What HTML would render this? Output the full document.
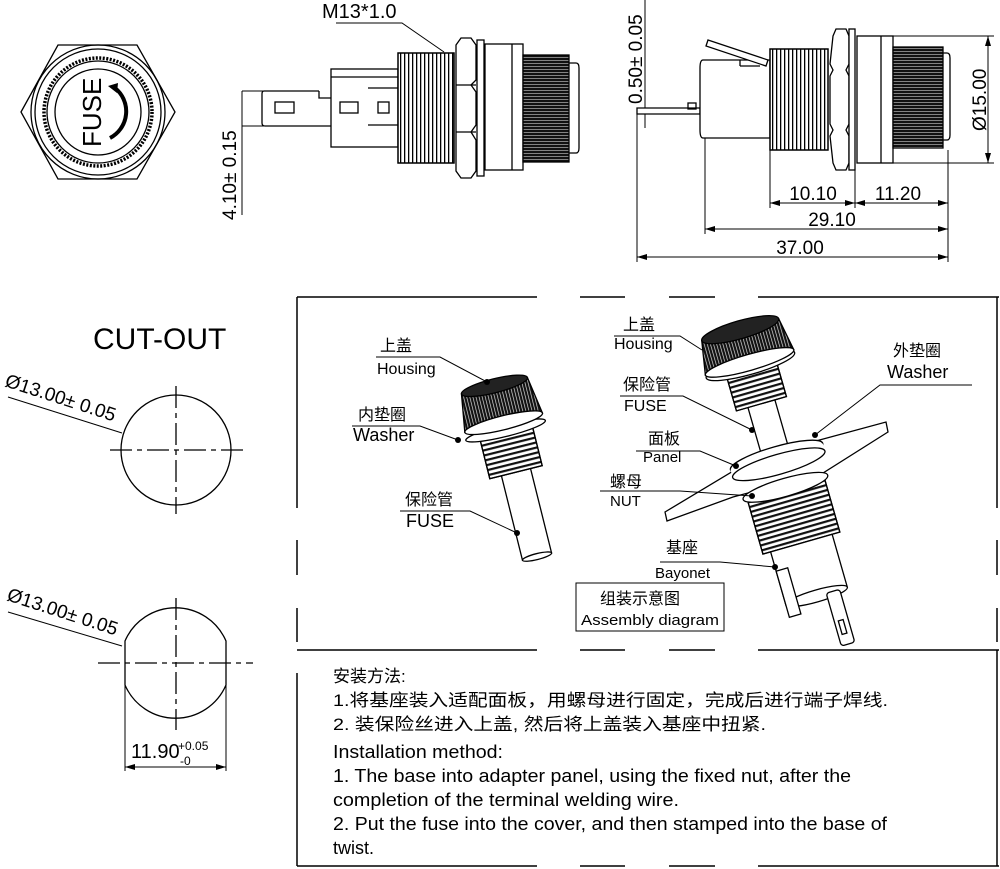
<!DOCTYPE html>
<html><head><meta charset="utf-8"><style>
html,body{margin:0;padding:0;background:#fff;}
svg{display:block;}
text{font-family:"Liberation Sans","Noto Sans CJK SC",sans-serif;fill:#000;}
</style></head><body>
<svg width="1000" height="869" viewBox="0 0 1000 869" xmlns="http://www.w3.org/2000/svg">
<defs>
<marker id="ar" markerWidth="10" markerHeight="6" refX="10" refY="3" orient="auto-start-reverse" markerUnits="userSpaceOnUse"><path d="M0,0 L10,3 L0,6 Z" fill="#000"/></marker>
<pattern id="knurl" width="3" height="10" patternUnits="userSpaceOnUse"><rect width="3" height="10" fill="#111"/><rect x="0" width="0.7" height="10" fill="#ddd"/></pattern>
<pattern id="knurlh" width="10" height="3" patternUnits="userSpaceOnUse"><rect width="10" height="3" fill="#111"/><rect y="0" width="10" height="0.6" fill="#ccc"/></pattern>
<pattern id="thr" width="4" height="10" patternUnits="userSpaceOnUse"><rect width="4" height="10" fill="#fff"/><rect x="0" width="1.3" height="10" fill="#000"/></pattern>
<pattern id="thrh" width="10" height="5" patternUnits="userSpaceOnUse"><rect width="10" height="5" fill="#fff"/><rect y="0" width="10" height="2.2" fill="#111"/></pattern>
</defs>
<g fill="none" stroke="#000" stroke-width="1.3">
<!-- ===== Top-left front view ===== -->
<polygon points="21,112 58,45 137,45 175,112 137,179 58,179"/>
<circle cx="98" cy="112" r="67"/>
<circle cx="98" cy="112" r="63"/>
<circle cx="98" cy="112" r="54" stroke-width="3.5" stroke-dasharray="2 1.5"/>
<circle cx="98" cy="112" r="51"/>
<circle cx="98" cy="112" r="43"/>
<path d="M115,88 A30,30 0 0 1 110,138" stroke-width="4"/>
<path d="M108,86 L118,83 L117,93 Z" fill="#000" stroke="none"/>
<!-- ===== Top middle side view ===== -->
<rect x="331" y="69" width="67" height="78"/>
<line x1="331" y1="77" x2="398" y2="77"/>
<line x1="368" y1="88" x2="398" y2="88"/><line x1="368" y1="125" x2="398" y2="125"/>
<path d="M319,91 L264,91 Q262,91 262,94 L262,123 Q262,126 265,126 L331,126"/>
<path d="M319,91 L319,98 L331,98"/>
<rect x="275" y="102" width="19" height="11"/>
<rect x="340" y="102" width="18" height="11"/>
<rect x="378" y="102" width="11" height="11"/>
<rect x="398" y="53" width="56" height="110" fill="url(#thr)"/>
<rect x="398" y="53" width="56" height="110"/>
<path d="M456,45 L461,38 L471,38 L476,45 L476,80 L471,85 L476,92 L476,125 L471,132 L476,140 L476,171 L471,178 L461,178 L456,171 Z" fill="#fff"/>
<line x1="456" y1="85" x2="476" y2="85"/><line x1="456" y1="132" x2="476" y2="132"/>
<rect x="477" y="40" width="7" height="136" fill="#fff"/>
<rect x="485" y="44" width="38" height="126" fill="#fff"/>
<line x1="512" y1="44" x2="512" y2="170"/>
<rect x="523" y="55" width="46" height="107" fill="url(#knurlh)"/>
<path d="M569,63 L576,63 Q579,63 579,68 L579,148 Q579,153 576,153 L569,153"/>
<polyline points="336,23 402,23 444,52" stroke-width="1"/>
<line x1="242" y1="91" x2="264" y2="91" stroke-width="1"/>
<line x1="242" y1="126" x2="264" y2="126" stroke-width="1"/>
<line x1="242" y1="91" x2="242" y2="215" stroke-width="1"/>
<!-- ===== Top right side view ===== -->
<path d="M637,108 L700,108 L700,114 L637,114 Z"/>
<rect x="688" y="103" width="8" height="6"/>
<path d="M703,60 L770,60 L770,138 L703,138 Q700,138 700,130 L700,68 Q700,60 703,60 Z" fill="#fff"/>
<line x1="740" y1="60" x2="740" y2="66"/><line x1="740" y1="66" x2="760" y2="66"/>
<polygon points="708,40 768,60 766,66 706,46" fill="#fff"/>
<rect x="770" y="49" width="58" height="101" fill="url(#thr)"/>
<rect x="770" y="49" width="58" height="101"/>
<path d="M833,36 L836,29 L846,29 L849,36 L849,64 L846,70 L849,76 L849,124 L846,130 L849,136 L849,163 L846,170 L836,170 L833,163 L830,136 L833,130 L830,124 L830,76 L833,70 L830,64 Z" fill="#fff"/>
<rect x="849" y="29" width="6" height="141" fill="#fff"/>
<rect x="857" y="36" width="36" height="127" fill="#fff"/>
<line x1="881" y1="36" x2="881" y2="163"/>
<rect x="893" y="47" width="50" height="101" fill="url(#knurlh)"/>
<path d="M943,53 L947,53 Q950,53 950,58 L950,135 Q950,140 947,140 L943,140"/>
<g stroke-width="1">
<line x1="893" y1="36" x2="994" y2="36"/><line x1="893" y1="163" x2="994" y2="163"/>
<line x1="988" y1="36" x2="988" y2="163" marker-start="url(#ar)" marker-end="url(#ar)"/>
<line x1="770" y1="150" x2="770" y2="208"/>
<line x1="855" y1="170" x2="855" y2="208"/>
<line x1="948" y1="150" x2="948" y2="262"/>
<line x1="705" y1="138" x2="705" y2="234"/>
<line x1="637" y1="114" x2="637" y2="262"/>
<line x1="770" y1="203" x2="855" y2="203" marker-start="url(#ar)" marker-end="url(#ar)"/>
<line x1="855" y1="203" x2="948" y2="203" marker-start="url(#ar)" marker-end="url(#ar)"/>
<line x1="705" y1="229" x2="948" y2="229" marker-start="url(#ar)" marker-end="url(#ar)"/>
<line x1="637" y1="257" x2="948" y2="257" marker-start="url(#ar)" marker-end="url(#ar)"/>
<line x1="645" y1="0" x2="645" y2="108"/><line x1="645" y1="114" x2="645" y2="128"/>
</g>
<!-- ===== Cut-out ===== -->
<circle cx="176" cy="450" r="55"/>
<g stroke-width="1.3" stroke-dasharray="22 5 5 5">
<line x1="110" y1="450" x2="243" y2="450"/>
<line x1="176" y1="386" x2="176" y2="514"/>
<line x1="98" y1="663" x2="253" y2="663"/>
<line x1="176" y1="598" x2="176" y2="730"/>
</g>
<line x1="8" y1="397" x2="122" y2="433" stroke-width="1"/>
<path d="M125,641 A55,55 0 0 1 226,641 L226,685 A55,55 0 0 1 125,685 Z"/>
<line x1="8" y1="612" x2="122" y2="646" stroke-width="1"/>
<g stroke-width="1">
<line x1="125" y1="685" x2="125" y2="771"/><line x1="226" y1="685" x2="226" y2="771"/>
<line x1="125" y1="767" x2="226" y2="767" marker-start="url(#ar)" marker-end="url(#ar)"/>
</g>
<!-- ===== Frame ===== -->
<g stroke-width="1.5">
<line x1="297" y1="297" x2="537" y2="297"/><line x1="580" y1="297" x2="625" y2="297"/><line x1="669" y1="297" x2="715" y2="297"/><line x1="758" y1="297" x2="999" y2="297"/>
<line x1="297" y1="650" x2="537" y2="650"/><line x1="580" y1="650" x2="625" y2="650"/><line x1="669" y1="650" x2="715" y2="650"/><line x1="758" y1="650" x2="999" y2="650"/>
<line x1="297" y1="866" x2="537" y2="866"/><line x1="580" y1="866" x2="625" y2="866"/><line x1="669" y1="866" x2="715" y2="866"/><line x1="758" y1="866" x2="999" y2="866"/>
<line x1="297" y1="297" x2="297" y2="508"/><line x1="297" y1="540" x2="297" y2="575"/><line x1="297" y1="608" x2="297" y2="642"/>
<line x1="997" y1="297" x2="997" y2="508"/><line x1="997" y1="540" x2="997" y2="575"/><line x1="997" y1="608" x2="997" y2="642"/>
<line x1="297" y1="673" x2="297" y2="866"/>
<line x1="997" y1="650" x2="997" y2="866"/>
</g>
<!-- ===== Left assembly ===== -->
<g transform="translate(493,380) rotate(-14)">
<rect x="-15" y="90" width="30" height="92" fill="#fff"/>
<ellipse cx="0" cy="182" rx="15" ry="3" fill="#fff"/>
<rect x="-27" y="55" width="54" height="40" fill="url(#thrh)"/>
<rect x="-27" y="55" width="54" height="40"/>
<ellipse cx="0" cy="52" rx="41" ry="6" fill="#fff"/>
<path d="M-34,6 L34,6 L40,44 L-40,44 Z" fill="url(#knurl)"/>
<ellipse cx="0" cy="6" rx="34" ry="7" fill="#222"/>
<ellipse cx="0" cy="44" rx="40" ry="7" fill="#fff"/>
</g>
<!-- ===== Right assembly ===== -->
<g transform="translate(738,322) rotate(-16)">
<rect x="-14" y="80" width="28" height="160" fill="#fff"/>
</g>
<polygon points="665,512 735,470 790,448 886,422 888,432 823,473 733,497 667,521" fill="#fff"/>
<g transform="translate(738,322) rotate(-16)">
<ellipse cx="0" cy="140" rx="48" ry="10" fill="#fff"/>
<rect x="-48" y="140" width="96" height="8" fill="#fff" stroke="none"/>
<ellipse cx="0" cy="148" rx="48" ry="10" fill="#fff"/>
<rect x="-40" y="175" width="80" height="55" fill="url(#thrh)"/>
<rect x="-40" y="175" width="80" height="55"/>
<ellipse cx="0" cy="172" rx="44" ry="9" fill="#fff"/>
<rect x="-32" y="230" width="64" height="55" fill="#fff"/>
<ellipse cx="0" cy="285" rx="32" ry="6" fill="#fff"/>
<rect x="-32" y="250" width="12" height="48" fill="#fff"/>
<rect x="10" y="285" width="14" height="55" rx="3" fill="#fff"/>
<rect x="14" y="315" width="5" height="14"/>
<rect x="-26" y="50" width="52" height="35" fill="url(#thrh)"/>
<rect x="-26" y="50" width="52" height="35"/>
<ellipse cx="0" cy="45" rx="46" ry="9" fill="#fff"/>
<path d="M-40,8 L40,8 L46,42 L-46,42 Z" fill="url(#knurl)"/>
<ellipse cx="0" cy="8" rx="40" ry="9" fill="#222"/>
<ellipse cx="0" cy="42" rx="46" ry="8" fill="#fff"/>
</g>
<!-- leaders -->
<g stroke-width="1">
<polyline points="376,357 440,357 487,382"/>
<polyline points="352,426 420,426 458,440"/>
<polyline points="400,511 470,511 517,533"/>
<polyline points="614,336 680,336 702,350"/>
<polyline points="620,396 683,396 752,430"/>
<polyline points="636,451 700,451 736,466"/>
<polyline points="600,491 680,491 752,496"/>
<polyline points="660,562 720,562 775,567"/>
<polyline points="972,385 880,385 815,435"/>
</g>
<g fill="#000" stroke="none">
<circle cx="487" cy="382" r="3"/><circle cx="458" cy="440" r="3"/><circle cx="517" cy="533" r="3"/>
<circle cx="752" cy="430" r="3"/><circle cx="736" cy="466" r="3"/><circle cx="752" cy="496" r="3"/><circle cx="775" cy="567" r="3"/><circle cx="815" cy="435" r="3"/>
</g>
<rect x="576" y="583" width="148" height="48" stroke-width="1"/>
</g>
<!-- ===== Texts ===== -->
<text x="0" y="0" font-size="26" transform="translate(101,147) rotate(-90)">FUSE</text>
<text x="322" y="18" font-size="20">M13*1.0</text>
<text font-size="19" transform="translate(236,220) rotate(-90)">4.10± 0.15</text>
<text font-size="19" transform="translate(642,104) rotate(-90)">0.50± 0.05</text>
<text font-size="19" transform="translate(986,131) rotate(-90)">Ø15.00</text>
<text x="813" y="200" font-size="19" text-anchor="middle">10.10</text>
<text x="898" y="200" font-size="19" text-anchor="middle">11.20</text>
<text x="832" y="226" font-size="19" text-anchor="middle">29.10</text>
<text x="800" y="254" font-size="19" text-anchor="middle">37.00</text>
<text x="93" y="349" font-size="30">CUT-OUT</text>
<text font-size="19" transform="translate(4,386) rotate(18)">Ø13.00± 0.05</text>
<text font-size="19" transform="translate(6,600) rotate(18)">Ø13.00± 0.05</text>
<text x="131" y="758" font-size="20">11.90</text>
<text x="178" y="750" font-size="12">+0.05</text>
<text x="180" y="765" font-size="12">-0</text>
<g font-size="16">
<text x="380" y="351">上盖</text><text x="377" y="374">Housing</text>
<text x="358" y="420">内垫圈</text><text x="353" y="441" font-size="18">Washer</text>
<text x="405" y="505">保险管</text><text x="406" y="527" font-size="18">FUSE</text>
<text x="623" y="330">上盖</text><text x="614" y="349">Housing</text>
<text x="623" y="390">保险管</text><text x="624" y="411">FUSE</text>
<text x="648" y="444">面板</text><text x="643" y="462" font-size="15">Panel</text>
<text x="610" y="487">螺母</text><text x="610" y="506" font-size="15">NUT</text>
<text x="666" y="553">基座</text><text x="655" y="578" font-size="15">Bayonet</text>
<text x="893" y="356">外垫圈</text><text x="887" y="378" font-size="18">Washer</text>
<text x="600" y="604">组装示意图</text>
<text x="581" y="625" font-size="15" textLength="138" lengthAdjust="spacingAndGlyphs">Assembly diagram</text>
</g>
<g font-size="17">
<text x="333" y="682">安装方法:</text>
<text x="333" y="706" textLength="555" lengthAdjust="spacingAndGlyphs">1.将基座装入适配面板，用螺母进行固定，完成后进行端子焊线.</text>
<text x="333" y="730" textLength="433" lengthAdjust="spacingAndGlyphs">2. 装保险丝进入上盖, 然后将上盖装入基座中扭紧.</text>
<text x="333" y="758" font-size="18" textLength="170" lengthAdjust="spacingAndGlyphs">Installation method:</text>
<text x="333" y="782" font-size="18" textLength="518" lengthAdjust="spacingAndGlyphs">1. The base into adapter panel, using the fixed nut, after the</text>
<text x="333" y="806" font-size="18" textLength="346" lengthAdjust="spacingAndGlyphs">completion of the terminal welding wire.</text>
<text x="333" y="830" font-size="18" textLength="554" lengthAdjust="spacingAndGlyphs">2. Put the fuse into the cover, and then stamped into the base of</text>
<text x="333" y="854" font-size="18">twist.</text>
</g>
</svg>
</body></html>
